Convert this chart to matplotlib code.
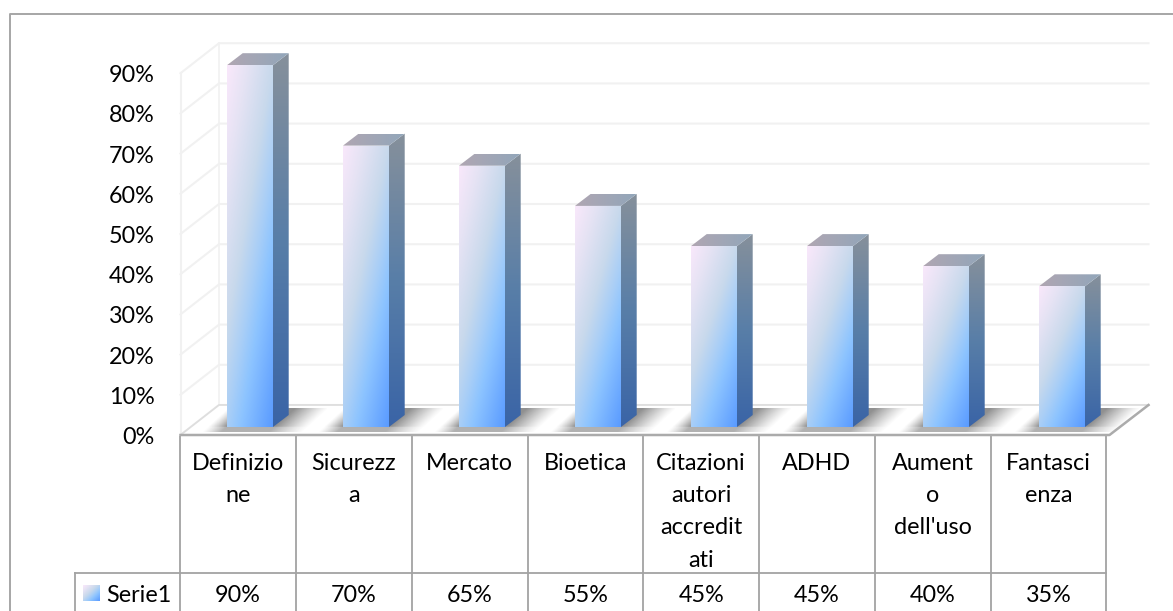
import numpy as np
import matplotlib
matplotlib.use("Agg")
import matplotlib.pyplot as plt
from matplotlib.colors import LinearSegmentedColormap
from matplotlib.patches import Polygon

plt.rcParams['font.family'] = ['Lato', 'DejaVu Sans']

# Chart data
categories = ["Definizio\nne", "Sicurezz\na", "Mercato", "Bioetica",
              "Citazioni\nautori\naccredit\nati", "ADHD",
              "Aument\no\ndell'uso", "Fantasci\nenza"]
values = [90, 70, 65, 55, 45, 45, 40, 35]
value_labels = ["90%", "70%", "65%", "55%", "45%", "45%", "40%", "35%"]
axis_ticks = [0, 10, 20, 30, 40, 50, 60, 70, 80, 90]
series_name = "Serie1"

W, H = 1173, 611
PX_PER_PCT = 4.02
PX_PER_CAT = 116.0
BAR_BASE_PX = 427.0
FIRST_BAR_PX = 250.0
BAR_W_PX = 46.0
DEPTH_X_PX, DEPTH_Y_PX = 15.7, 12.0
FONT = 16.8
GRID = "#F1F1F1"
TABLE = "#A3A3A3"

fig = plt.figure(figsize=(W / 100, H / 100), dpi=100)

# Pixel-space layer for frame, walls, floor and data table
bg = fig.add_axes([0, 0, 1, 1], zorder=1)
bg.set_xlim(0, W)
bg.set_ylim(H, 0)
bg.axis("off")

# Bars layer: x in category units, y in percent
ax = fig.add_axes([0, 0, 1, 1], zorder=2)
ax.patch.set_alpha(0)
ax.axis("off")
xlim = (-FIRST_BAR_PX / PX_PER_CAT, (W - FIRST_BAR_PX) / PX_PER_CAT)
ylim = ((BAR_BASE_PX - H) / PX_PER_PCT, BAR_BASE_PX / PX_PER_PCT)

# Outer chart frame
bg.plot([9.5, 9.5, W], [H, 13.5, 13.5], color="#A6A6A6", lw=1.4, solid_capstyle="butt")

# Walls
FRONT_L, FRONT_R, BACK_L, BACK_R = 180.5, 1109.5, 219.0, 1148.5
FRONT_0, BACK_0, STEP = 435.0, 405.0, 40.2
for t in axis_ticks:
    k = t / 10
    bg.plot([FRONT_L, BACK_L, BACK_R],
            [FRONT_0 - k * STEP, BACK_0 - k * STEP, BACK_0 - k * STEP],
            color=GRID, lw=1.5, zorder=1)
bg.plot([FRONT_L, FRONT_L], [FRONT_0, FRONT_0 - 9 * STEP], color=GRID, lw=1.5, zorder=1)
bg.plot([BACK_L, BACK_L], [BACK_0, BACK_0 - 9 * STEP], color=GRID, lw=1.2, zorder=1)

# Floor
bg.add_patch(Polygon([(FRONT_L, FRONT_0), (FRONT_R, FRONT_0), (BACK_R, BACK_0), (BACK_L, BACK_0)],
                     closed=True, fc="white", ec="none", zorder=2))
bg.plot([FRONT_L, BACK_L, BACK_R], [FRONT_0, BACK_0, BACK_0], color="#DEDEDE", lw=1.3, zorder=3)
bg.plot([FRONT_L, FRONT_R, BACK_R], [FRONT_0, FRONT_0, BACK_0], color="#ABABAB", lw=1.8, zorder=6)

# Soft shadow cast on the floor by each bar, fading along the floor's slant
SHEAR = 1.1
for i in range(len(values)):
    xl = FIRST_BAR_PX + i * PX_PER_CAT - BAR_W_PX / 2
    xr = xl + BAR_W_PX
    sx0, sx1 = xl - 26, xl + 100
    sy0, sy1 = 409.0, 432.5
    xs, ys = np.meshgrid(np.linspace(sx0, sx1, 200), np.linspace(sy0, sy1, 60))
    sheared = xs - (432.0 - ys) * SHEAR
    right = np.clip(sheared - (xr - 3), 0, None) / 34.0
    left = np.clip((xl - 5.5) - sheared, 0, None) / 19.0
    alpha = 0.58 * np.clip(1 - np.maximum(right, left), 0, 1) ** 1.2
    alpha *= np.where(ys > 427.5, 0.7, 1.0)
    rgba = np.zeros(xs.shape + (4,))
    rgba[..., :3] = 0.25
    rgba[..., 3] = alpha
    bg.imshow(rgba, extent=(sx0, sx1, sy1, sy0), aspect="auto", zorder=4,
              interpolation="bilinear")

# Bar gradients
front_cmap = LinearSegmentedColormap.from_list(
    "front", [(0, "#F9E8FB"), (0.18, "#E6E3F4"), (0.42, "#C8D9EC"), (0.58, "#A8CEF7"),
              (0.7, "#8DC4FF"), (1, "#5A9BFF")])
side_cmap = LinearSegmentedColormap.from_list("side", ["#86909B", "#587EA8", "#3A64A6"])
top_cmap = LinearSegmentedColormap.from_list("top", ["#B0A6B2", "#92A6BA"])


def gradient_face(axes, verts, bbox, field, cmap):
    im = axes.imshow(field, extent=bbox, origin="upper", aspect="auto", cmap=cmap,
                     vmin=0, vmax=1, zorder=3, interpolation="bilinear")
    poly = Polygon(verts, closed=True, fc="none", ec="none", transform=axes.transData)
    axes.add_patch(poly)
    im.set_clip_path(poly)


bar_w = BAR_W_PX / PX_PER_CAT
dx_cat = DEPTH_X_PX / PX_PER_CAT
dy_pct = DEPTH_Y_PX / PX_PER_PCT
u, w = np.meshgrid(np.linspace(0, 1, 60), np.linspace(0, 1, 200))
front_field = 0.42 * u + 0.58 * w
side_field = w
top_field = u

for i, v in enumerate(values):
    x0, x1 = i - bar_w / 2, i + bar_w / 2
    gradient_face(ax, [(x0, 0), (x1, 0), (x1, v), (x0, v)],
                  (x0, x1, 0, v), front_field, front_cmap)
    gradient_face(ax, [(x1, 0), (x1 + dx_cat, dy_pct), (x1 + dx_cat, v + dy_pct), (x1, v)],
                  (x1, x1 + dx_cat, 0, v + dy_pct), side_field, side_cmap)
    gradient_face(ax, [(x0, v), (x1, v), (x1 + dx_cat, v + dy_pct), (x0 + dx_cat, v + dy_pct)],
                  (x0, x1 + dx_cat, v, v + dy_pct), top_field, top_cmap)

ax.set_xlim(*xlim)
ax.set_ylim(*ylim)
bg.set_xlim(0, W)
bg.set_ylim(H, 0)

# Value axis labels
for t in axis_ticks:
    bg.text(154.5, FRONT_0 + 0.5 - t / 10 * STEP, f"{t}%", ha="right", va="center_baseline",
            fontsize=FONT, color="black", zorder=8)

# Data table
COL0 = 180.3
n = len(categories)
ROW_TOP, ROW_SPLIT = 435.5, 573.0
LEG_L = 75.0
for i in range(n + 1):
    x = COL0 + i * (PX_PER_CAT - 0.25)
    bg.plot([x, x], [ROW_TOP, H], color=TABLE, lw=1.3, zorder=5, solid_capstyle="butt")
bg.plot([LEG_L, COL0 + n * (PX_PER_CAT - 0.25)], [ROW_SPLIT, ROW_SPLIT], color=TABLE, lw=1.3, zorder=5)
bg.plot([LEG_L, LEG_L], [ROW_SPLIT, H], color=TABLE, lw=1.3, zorder=5)

LINE_STEP = 32.4
for i, (cat, lab) in enumerate(zip(categories, value_labels)):
    xc = COL0 + (i + 0.5) * (PX_PER_CAT - 0.25)
    for j, line in enumerate(cat.split("\n")):
        bg.text(xc, 461 + j * LINE_STEP, line, ha="center", va="center_baseline",
                fontsize=FONT, color="black", zorder=8)
    bg.text(xc, 593, lab, ha="center", va="center_baseline", fontsize=FONT, color="black", zorder=8)

# Legend key inside the table
su, sw = np.meshgrid(np.linspace(0, 1, 30), np.linspace(0, 1, 30))
bg.imshow(0.5 * su + 0.5 * sw, extent=(83, 100, 601, 585), aspect="auto", cmap=front_cmap,
          vmin=0, vmax=1, zorder=8, interpolation="bilinear")
bg.text(106, 593, series_name, ha="left", va="center_baseline", fontsize=FONT, color="black", zorder=8)

bg.set_xlim(0, W)
bg.set_ylim(H, 0)
fig.savefig("out.png", dpi=100, facecolor="white")
